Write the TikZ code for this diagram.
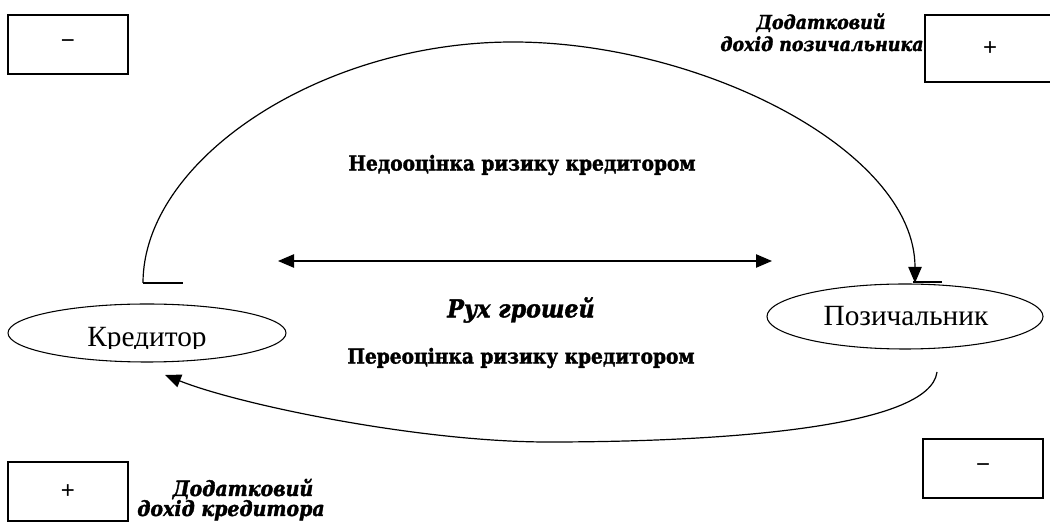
\documentclass[tikz,border=0pt]{standalone}
\usepackage{fontspec}
\setmainfont{Liberation Serif}
\newfontfamily\sansf{Liberation Sans}
\newfontfamily\decof[FakeBold=1.6]{DejaVu Serif Condensed}
\usetikzlibrary{arrows.meta,shapes.geometric}
\begin{document}
\begin{tikzpicture}[x=0.75pt,y=-0.75pt,
  box/.style={draw,line width=1.1pt,minimum width=90pt,minimum height=44.25pt,inner sep=0pt,font=\sansf\fontsize{18}{18}\selectfont},
  oval/.style={draw,ellipse,line width=0.8pt,inner sep=0pt},
  plain/.style={font=\fontsize{22}{22}\selectfont,inner sep=0pt},
  conn/.style={line width=0.9pt},
  tip/.style={-{Triangle[length=12pt,width=10pt]}},
  heavy/.style={font=\decof\bfseries\fontsize{15.5}{15.5}\selectfont,inner sep=0pt},
  deco/.style={font=\decof\bfseries\itshape\fontsize{14.5}{14.5}\selectfont,inner sep=0pt},
  decobig/.style={font=\decof\bfseries\itshape\fontsize{15.8}{15.8}\selectfont,inner sep=0pt},
  decomid/.style={font=\decof\bfseries\itshape\fontsize{18.5}{18.5}\selectfont,inner sep=0pt}
]
\useasboundingbox (0,0) rectangle (1050,523);
% boxes
\node[box] (bTL) at (68,44.5) {−};
\node[box,minimum width=97.5pt,minimum height=50.25pt] (bTR) at (990,48.5) {+};
\node[box] (bBL) at (68,491.5) {+};
\node[box] (bBR) at (983,468.5) {−};
% ellipses
\node[oval,minimum width=208.5pt,minimum height=43.5pt] (kred) at (147,333) {};
\node[oval,minimum width=207pt,minimum height=48.75pt] (poz) at (905,316.5) {};
\begin{scope}
\clip (60,300) rectangle (240,349);
\node[plain,anchor=base] (kredT) at (147,347) {Кредитор};
\end{scope}
\node[plain,anchor=base] (pozT) at (906,326) {Позичальник};
% connector ends
\coordinate (aS) at (143,283);
\coordinate (aSt) at (183,283);
\coordinate (aE) at (915,283);
\coordinate (aEl) at (913,282);
\coordinate (aEr) at (942,282);
\coordinate (dL) at (278,261);
\coordinate (dR) at (772,261);
\coordinate (bS) at (937,372);
\coordinate (bE) at (165,375);
% top arc
\draw[conn] (aS) -- (aSt);
\draw[conn] (aEl) -- (aEr);
\draw[conn,tip] (aS) .. controls (143,160) and (320,42) .. (513,42)
  .. controls (700,42) and (915,150) .. (aE);
% double arrow
\draw[conn,{Triangle[length=12pt,width=10pt]}-{Triangle[length=12pt,width=10pt]}] (dL) -- (dR);
% bottom arc
\draw[conn,tip] (bS) .. controls (930,428) and (720,442) .. (548,442)
  .. controls (420,442) and (240,405) .. (bE);
% texts
\node[heavy] (t1) at (522,165) {Недооцінка ризику кредитором};
\node[decomid] (t2) at (521,310) {Рух грошей};
\node[heavy] (t3) at (521,358) {Переоцінка ризику кредитором};
\node[deco,anchor=base] (t4a) at (821,29) {Додатковий};
\node[deco,anchor=base] (t4b) at (822,51) {дохід позичальника};
\node[decobig,anchor=base] (t5a) at (243,496) {Додатковий};
\node[decobig,anchor=base] (t5b) at (231,516) {дохід кредитора};
\end{tikzpicture}
\end{document}
